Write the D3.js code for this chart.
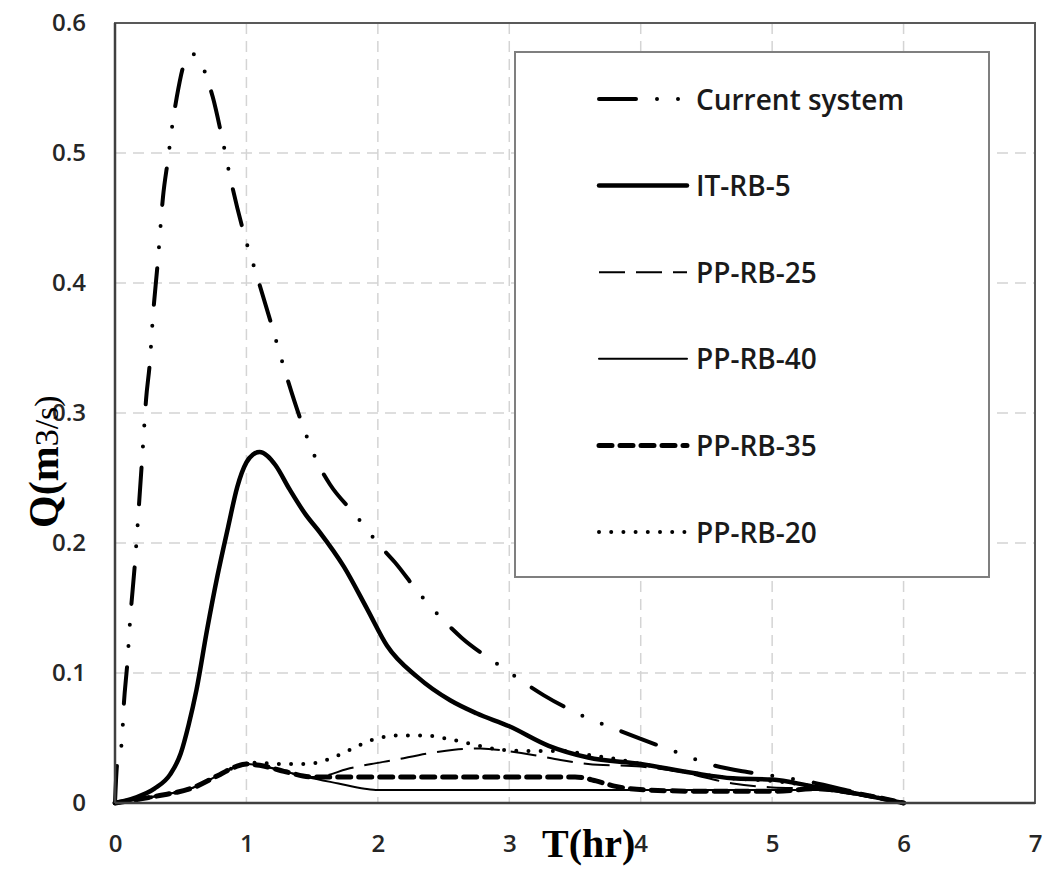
<!DOCTYPE html>
<html>
<head>
<meta charset="utf-8">
<script src="https://cdn.jsdelivr.net/npm/d3@7"></script>
<style>
  html, body { margin: 0; padding: 0; background: #fff; }
  svg { display: block; }
</style>
</head>
<body>
<svg id="chart" width="1047" height="871"></svg>
<script>
// ---------------- DATA ----------------
const seriesNames = ["Current system", "IT-RB-5", "PP-RB-25", "PP-RB-40", "PP-RB-35", "PP-RB-20"];

const tCurrent = [0, 0.015, 0.051, 0.068, 0.094, 0.114, 0.152, 0.185, 0.215, 0.236, 0.266, 0.287, 0.327, 0.365, 0.403, 0.444, 0.470, 0.540, 0.590, 0.639, 0.698, 0.744, 0.812, 0.875, 0.984, 1.078, 1.205, 1.294, 1.433, 1.555, 1.636, 1.826, 2.024, 2.131, 2.308, 2.524, 2.639, 2.879, 3.006, 3.26, 3.539, 3.830, 4.249, 4.553, 4.8, 5.0, 5.3, 5.6, 6.0];
const qCurrent = [0, 0.029, 0.046, 0.077, 0.108, 0.139, 0.185, 0.233, 0.278, 0.310, 0.340, 0.372, 0.418, 0.466, 0.495, 0.527, 0.543, 0.572, 0.576, 0.573, 0.558, 0.543, 0.513, 0.482, 0.437, 0.406, 0.363, 0.332, 0.289, 0.259, 0.245, 0.222, 0.197, 0.185, 0.162, 0.138, 0.127, 0.109, 0.100, 0.083, 0.068, 0.056, 0.040, 0.029, 0.024, 0.021, 0.016, 0.009, 0];

const tIT5 = [0, 0.15, 0.3, 0.42, 0.5, 0.56, 0.62, 0.7, 0.78, 0.86, 0.93, 1.0, 1.05, 1.1, 1.16, 1.22, 1.33, 1.45, 1.56, 1.74, 1.92, 2.07, 2.3, 2.55, 2.75, 3.0, 3.3, 3.6, 4.0, 4.4, 4.7, 5.0, 5.3, 5.6, 6.0];
const qIT5 = [0, 0.004, 0.011, 0.022, 0.038, 0.060, 0.087, 0.133, 0.175, 0.212, 0.243, 0.262, 0.268, 0.270, 0.267, 0.260, 0.241, 0.222, 0.208, 0.182, 0.149, 0.121, 0.097, 0.079, 0.069, 0.059, 0.044, 0.035, 0.030, 0.023, 0.019, 0.018, 0.013, 0.008, 0];

const tPP25 = [0, 0.3, 0.6, 0.8, 0.92, 1.0, 1.1, 1.3, 1.5, 1.6, 1.76, 1.95, 2.12, 2.37, 2.58, 2.78, 2.98, 3.18, 3.39, 3.6, 4.0, 4.3, 4.7, 5.0, 5.35, 5.6, 6.0];
const qPP25 = [0, 0.005, 0.012, 0.022, 0.028, 0.030, 0.029, 0.024, 0.020, 0.021, 0.026, 0.030, 0.033, 0.038, 0.041, 0.042, 0.040, 0.037, 0.033, 0.030, 0.028, 0.024, 0.015, 0.012, 0.011, 0.008, 0];

const tPP40 = [0, 0.3, 0.6, 0.8, 0.92, 1.0, 1.1, 1.3, 1.46, 1.7, 1.9, 2.0, 2.2, 3.0, 4.0, 5.0, 5.35, 5.6, 6.0];
const qPP40 = [0, 0.005, 0.012, 0.022, 0.028, 0.030, 0.029, 0.024, 0.020, 0.015, 0.011, 0.010, 0.010, 0.010, 0.010, 0.010, 0.010, 0.007, 0];

const tPP35 = [0, 0.3, 0.6, 0.8, 0.92, 1.0, 1.1, 1.3, 1.5, 1.7, 2.0, 2.5, 3.0, 3.5, 3.66, 3.8, 4.05, 4.5, 5.0, 5.35, 5.6, 6.0];
const qPP35 = [0, 0.005, 0.012, 0.022, 0.028, 0.030, 0.029, 0.024, 0.020, 0.020, 0.020, 0.020, 0.020, 0.020, 0.017, 0.013, 0.010, 0.009, 0.009, 0.011, 0.008, 0];

const tPP20 = [0, 0.3, 0.6, 0.8, 0.92, 1.0, 1.08, 1.26, 1.46, 1.66, 1.79, 1.97, 2.17, 2.35, 2.55, 2.73, 2.93, 3.18, 3.4, 3.6, 3.8, 4.0, 4.4, 4.7, 5.0, 5.3, 5.6, 6.0];
const qPP20 = [0, 0.005, 0.012, 0.022, 0.028, 0.030, 0.031, 0.030, 0.030, 0.035, 0.041, 0.049, 0.052, 0.052, 0.049, 0.045, 0.041, 0.040, 0.040, 0.037, 0.034, 0.030, 0.023, 0.019, 0.017, 0.013, 0.008, 0];

const xTicks = [0, 1, 2, 3, 4, 5, 6, 7];
const yTicks = [0, 0.1, 0.2, 0.3, 0.4, 0.5, 0.6];
const yTickLabels = ["0", "0.1", "0.2", "0.3", "0.4", "0.5", "0.6"];
const xTitle = "T(hr)";
const yTitleMain = "Q(m";
const yTitleRest = "3/s)";

// ---------------- LAYOUT ----------------
(function () {
const svg = d3.select("#chart");
const pLeft = 115, pRight = 1035, pTop = 23, pBottom = 803;
const x = d3.scaleLinear().domain([0, 7]).range([pLeft, pRight]);
const y = d3.scaleLinear().domain([0, 0.6]).range([pBottom, pTop]);

const tickFont = "'Open Sans', 'DejaVu Sans', sans-serif";

// gridlines
const grid = svg.append("g");
grid.selectAll("line.gx").data(xTicks.slice(1, -1)).enter().append("line")
  .attr("x1", d => x(d)).attr("x2", d => x(d)).attr("y1", pTop).attr("y2", pBottom)
  .attr("stroke", "#d4d4d4").attr("stroke-width", 1.5).attr("stroke-dasharray", "11 7");
grid.selectAll("line.gy").data(yTicks.slice(1, -1)).enter().append("line")
  .attr("x1", pLeft).attr("x2", pRight).attr("y1", d => y(d)).attr("y2", d => y(d))
  .attr("stroke", "#d4d4d4").attr("stroke-width", 1.5).attr("stroke-dasharray", "11 7");

// plot border
svg.append("rect").attr("x", pLeft).attr("y", pTop).attr("width", pRight - pLeft).attr("height", pBottom - pTop)
  .attr("fill", "none").attr("stroke", "#595959").attr("stroke-width", 2);

// series
const styles = {
  "Current system": { w: 4, dash: "37 21 0 21 0 21", cap: "round" },
  "IT-RB-5": { w: 4.5, dash: null, cap: "round" },
  "PP-RB-25": { w: 2, dash: "26 11", cap: "butt" },
  "PP-RB-40": { w: 2, dash: null, cap: "round" },
  "PP-RB-35": { w: 5, dash: "13 8", cap: "round" },
  "PP-RB-20": { w: 4, dash: "0 12.2", cap: "round" }
};
const seriesData = [
  { name: "Current system", t: tCurrent, q: qCurrent },
  { name: "IT-RB-5", t: tIT5, q: qIT5 },
  { name: "PP-RB-25", t: tPP25, q: qPP25 },
  { name: "PP-RB-40", t: tPP40, q: qPP40 },
  { name: "PP-RB-35", t: tPP35, q: qPP35 },
  { name: "PP-RB-20", t: tPP20, q: qPP20 }
];
const line = d3.line().x(d => x(d[0])).y(d => y(d[1])).curve(d3.curveMonotoneX);

const drawOrder = ["PP-RB-40", "PP-RB-25", "PP-RB-35", "PP-RB-20", "IT-RB-5", "Current system"];
drawOrder.forEach(n => {
  const s = seriesData.find(d => d.name === n);
  const st = styles[n];
  const pts = s.t.map((t, i) => [t, s.q[i]]);
  svg.append("path").datum(pts).attr("d", line)
    .attr("fill", "none").attr("stroke", "#000").attr("stroke-width", st.w)
    .attr("stroke-linecap", st.cap).attr("stroke-linejoin", "round")
    .attr("stroke-dasharray", st.dash);
});

// axis lines
svg.append("line").attr("x1", pLeft).attr("x2", pLeft).attr("y1", pTop).attr("y2", pBottom)
  .attr("stroke", "#404040").attr("stroke-width", 2.5);
svg.append("line").attr("x1", pLeft).attr("x2", pRight).attr("y1", pBottom).attr("y2", pBottom)
  .attr("stroke", "#404040").attr("stroke-width", 2.5);

// axes (labels only)
const xAxis = svg.append("g").attr("transform", `translate(0,${pBottom})`)
  .call(d3.axisBottom(x).tickValues(xTicks).tickSize(0).tickPadding(32).tickFormat(d3.format("d")));
const yAxis = svg.append("g").attr("transform", `translate(${pLeft},0)`)
  .call(d3.axisLeft(y).tickValues(yTicks).tickSize(0).tickPadding(29).tickFormat((d, i) => yTickLabels[i]));
[xAxis, yAxis].forEach(a => {
  a.select(".domain").remove();
  a.selectAll("text").attr("font-family", tickFont).attr("font-size", 24)
    .attr("font-weight", 600).attr("fill", "#262626");
});

// axis titles
svg.append("text").attr("x", 542).attr("y", 857)
  .attr("font-family", "'Liberation Serif', 'Times New Roman', serif").attr("font-weight", "bold")
  .attr("font-size", 40).attr("fill", "#000").text(xTitle);
const yt = svg.append("text").attr("transform", "translate(58,528) rotate(-90)")
  .attr("font-family", "'Liberation Serif', 'Times New Roman', serif").attr("fill", "#000");
yt.append("tspan").attr("font-weight", "bold").attr("font-size", 42).text(yTitleMain);
yt.append("tspan").attr("font-size", 34).text(yTitleRest);

// legend
const lg = svg.append("g");
lg.append("rect").attr("x", 515).attr("y", 52).attr("width", 474).attr("height", 525)
  .attr("fill", "#fff").attr("stroke", "#7f7f7f").attr("stroke-width", 2);
const legendY = d3.scalePoint().domain(seriesNames).range([99, 532]);
seriesNames.forEach(n => {
  const st = styles[n];
  const yy = legendY(n);
  lg.append("line").attr("x1", 599).attr("x2", 687).attr("y1", yy).attr("y2", yy)
    .attr("stroke", "#000").attr("stroke-width", st.w).attr("stroke-linecap", st.cap)
    .attr("stroke-dasharray", st.dash);
  lg.append("text").attr("x", 696).attr("y", yy + 10.5)
    .attr("font-family", tickFont).attr("font-size", 28).attr("font-weight", 600)
    .attr("fill", "#1a1a1a").text(n);
});
})();
</script>
</body>
</html>
